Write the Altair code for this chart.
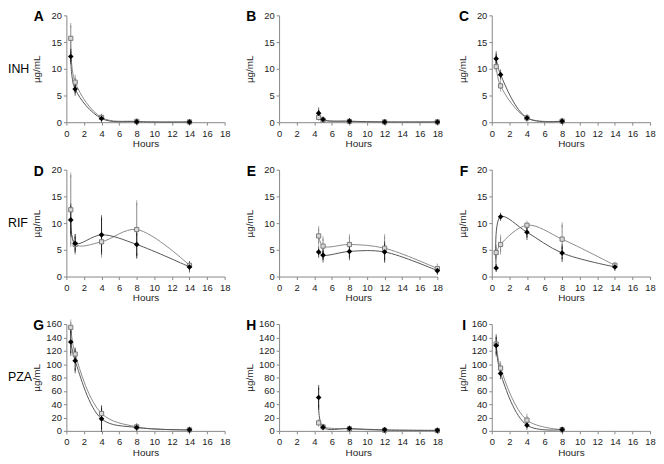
import altair as alt
import pandas as pd

# ---------------- data ----------------
panel_letters = ["A", "B", "C", "D", "E", "F", "G", "H", "I"]
row_labels = ["INH", "RIF", "PZA"]
x_ticks = [0, 2, 4, 6, 8, 10, 12, 14, 16, 18]

# INH
A_time = [0.5, 1, 4, 8, 14]
A_black = [12.3, 6.2, 0.7, 0.1, 0.05]
A_black_err = [1.0, 0.8, 0.3, 0.1, 0.0]
A_grey = [15.7, 7.5, 0.9, 0.15, 0.05]
A_grey_err = [2.4, 0.9, 0.2, 0.1, 0.0]

B_time = [4.5, 5, 8, 12, 18]
B_black = [1.7, 0.5, 0.2, 0.05, 0.05]
B_black_err = [0.6, 0.1, 0.1, 0.0, 0.0]
B_grey = [0.9, 0.4, 0.15, 0.05, 0.05]
B_grey_err = [0.2, 0.1, 0.05, 0.0, 0.0]

C_time = [0.5, 1, 4, 8]
C_black = [11.9, 8.9, 0.8, 0.2]
C_black_err = [0.9, 0.5, 0.2, 0.05]
C_grey = [10.4, 6.8, 0.8, 0.2]
C_grey_err = [0.6, 0.6, 0.2, 0.05]

# RIF
D_time = [0.5, 1, 4, 8, 14]
D_black = [10.6, 6.2, 7.8, 6.0, 1.8]
D_black_err = [2.6, 1.3, 3.2, 2.1, 0.6]
D_grey = [12.5, 6.0, 6.5, 8.8, 2.1]
D_grey_err = [6.5, 1.5, 2.5, 5.0, 0.3]

E_time = [4.5, 5, 8, 12, 18]
E_black = [4.6, 4.0, 4.7, 4.6, 1.1]
E_black_err = [0.6, 0.9, 1.2, 1.5, 0.3]
E_grey = [7.6, 5.7, 6.0, 5.3, 1.5]
E_grey_err = [1.4, 1.4, 1.5, 2.2, 0.5]

F_time = [0.5, 1, 4, 8, 14]
F_black = [1.6, 11.2, 8.3, 4.4, 1.8]
F_black_err = [0.3, 0.3, 1.0, 1.2, 0.3]
F_grey = [4.5, 6.0, 9.6, 7.0, 2.1]
F_grey_err = [1.0, 1.4, 0.4, 2.7, 0.2]

# PZA
G_time = [0.5, 1, 4, 8, 14]
G_black = [133, 105, 18, 5, 1.5]
G_black_err = [17, 15, 16, 2, 1]
G_grey = [155, 115, 26, 6, 1.5]
G_grey_err = [8, 7, 9, 2, 1]

H_time = [4.5, 5, 8, 12, 18]
H_black = [50, 5.5, 3.5, 1.5, 0.8]
H_black_err = [15, 1, 1, 0.5, 0.3]
H_grey = [12, 6, 3, 1, 0.5]
H_grey_err = [2, 1, 0.5, 0.3, 0.2]

I_time = [0.5, 1, 4, 8]
I_black = [128, 86, 8.5, 1.8]
I_black_err = [13, 5, 3, 0.5]
I_grey = [130, 94, 16, 1.8]
I_grey_err = [5, 7, 6, 0.5]

y_max_rows = [20, 20, 160]
y_step_rows = [5, 5, 20]

panels_data = [
    (A_time, A_black, A_black_err, A_grey, A_grey_err),
    (B_time, B_black, B_black_err, B_grey, B_grey_err),
    (C_time, C_black, C_black_err, C_grey, C_grey_err),
    (D_time, D_black, D_black_err, D_grey, D_grey_err),
    (E_time, E_black, E_black_err, E_grey, E_grey_err),
    (F_time, F_black, F_black_err, F_grey, F_grey_err),
    (G_time, G_black, G_black_err, G_grey, G_grey_err),
    (H_time, H_black, H_black_err, H_grey, H_grey_err),
    (I_time, I_black, I_black_err, I_grey, I_grey_err),
]

FONT = "Liberation Sans"
W, H = 160, 108


def series_df(t, v, e):
    return pd.DataFrame({
        "t": t, "v": v,
        "lo": [max(a - b, 0) for a, b in zip(v, e)],
        "hi": [a + b for a, b in zip(v, e)],
    })


def panel(idx):
    t, b, be, g, ge = panels_data[idx]
    row = idx // 3
    col = idx % 3
    ymax = y_max_rows[row]
    ystep = y_step_rows[row]
    db = series_df(t, b, be)
    dg = series_df(t, g, ge)

    xs = alt.Scale(domain=[0, 18], nice=False)
    ys = alt.Scale(domain=[0, ymax], nice=False)
    x_axis = alt.Axis(
        values=x_ticks, title="Hours", grid=False, labelFont=FONT, titleFont=FONT,
        labelFontSize=9.5, titleFontSize=10, titleFontWeight="normal",
        labelColor="#222", titleColor="#222", tickSize=3, labelPadding=3,
        titlePadding=1, domainColor="#888", tickColor="#888", labelFlush=False)
    y_axis = alt.Axis(
        values=list(range(0, ymax + 1, ystep)), title="µg/mL", grid=False,
        labelFont=FONT, titleFont=FONT, labelFontSize=9.5, titleFontSize=10,
        titleFontWeight="normal", labelColor="#222", titleColor="#222",
        tickSize=3, labelPadding=2, titleX=-25, titleY=H / 2,
        domainColor="#888", tickColor="#888")
    X = alt.X("t:Q", scale=xs, axis=x_axis)

    def Y(f):
        return alt.Y(f, type="quantitative", scale=ys, axis=y_axis)

    layers = []
    for df, col_line, col_err in ((dg, "#8a8a8a", "#8a8a8a"), (db, "#555555", "#222222")):
        base = alt.Chart(df)
        layers.append(base.mark_line(interpolate="catmull-rom", strokeWidth=1,
                                     color=col_line)
                      .encode(x=X, y=Y("v")))
        layers.append(base.mark_rule(strokeWidth=1, color=col_err)
                      .encode(x=X, y=Y("lo"), y2="hi:Q"))
        layers.append(base.mark_tick(size=5, thickness=1, color=col_err)
                      .encode(x=X, y=Y("lo")))
        layers.append(base.mark_tick(size=5, thickness=1, color=col_err)
                      .encode(x=X, y=Y("hi")))
    layers.append(alt.Chart(dg).mark_point(shape="square", size=18, filled=True,
                                           fill="#d8d8d8", stroke="#7a7a7a",
                                           strokeWidth=1, opacity=1)
                  .encode(x=X, y=Y("v")))
    layers.append(alt.Chart(db).mark_point(shape="diamond", size=32, filled=True,
                                           color="black", opacity=1)
                  .encode(x=X, y=Y("v")))

    lab = pd.DataFrame({"s": [panel_letters[idx]]})
    layers.append(alt.Chart(lab).mark_text(font=FONT, fontSize=14, fontWeight="bold",
                                           align="center", baseline="top", color="black")
                  .encode(text="s:N", x=alt.value(-28), y=alt.value(-5)))
    if col == 0:
        rl = pd.DataFrame({"s": [row_labels[row]]})
        layers.append(alt.Chart(rl).mark_text(font=FONT, fontSize=12.5, align="left",
                                              baseline="middle", color="black")
                      .encode(text="s:N", x=alt.value(-59), y=alt.value(H / 2)))
    return alt.layer(*layers).properties(width=W, height=H)


chart = alt.concat(*[panel(i) for i in range(9)], columns=3,
                   spacing={"row": 48, "column": 55}, bounds="flush").properties(
    padding=0, background="white"
).configure_view(stroke=None)

chart.save("out.html", embed_options={"renderer": "svg", "actions": False})
